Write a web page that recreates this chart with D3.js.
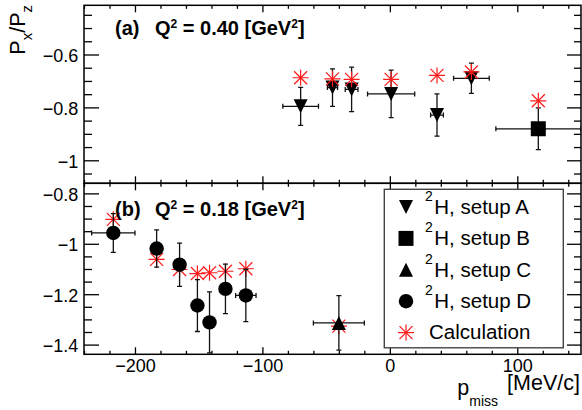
<!DOCTYPE html>
<html>
<head>
<meta charset="utf-8">
<script src="https://cdn.jsdelivr.net/npm/d3@7"></script>
<style>
    body { margin: 0; background: #fff; }
    svg { display: block; font-family: 'Liberation Sans', Arial, Helvetica, sans-serif; }
</style>
</head>
<body>
<svg id="chart" width="582" height="410"></svg>
<script>
var xMajorTicks = [-200, -100, 0, 100];
var topYTicks = [-0.6, -0.8, -1];
var bottomYTicks = [-0.8, -1, -1.2, -1.4];
var panelNames = ['(a)', '(b)'];
var panelQ2 = ['0.40', '0.18'];

// setup A (top panel)
var setupAX = [-70, -45, -30, 1, 37, 64];
var setupAY = [-0.796, -0.725, -0.732, -0.749, -0.829, -0.69];
var setupAXErr = [14, 4, 5, 18.5, 5, 14];
var setupAYErr = [0.072, 0.071, 0.084, 0.09, 0.08, 0.057];
var calcAY = [-0.688, -0.692, -0.694, -0.694, -0.679, -0.666];

// setup B (top panel)
var setupBX = [116.5];
var setupBY = [-0.881];
var setupBXErr = [33.3];
var setupBYErr = [0.079];
var calcBY = [-0.775];

// setup C (bottom panel)
var setupCX = [-40];
var setupCY = [-1.314];
var setupCXErr = [20];
var setupCYErr = [0.108];
var calcCY = [-1.327];

// setup D (bottom panel)
var setupDX = [-217, -183, -165, -151, -141.5, -129, -113];
var setupDY = [-0.957, -1.019, -1.083, -1.245, -1.312, -1.179, -1.205];
var setupDXErr = [17, 3, 0, 0, 0, 0, 8];
var setupDYErr = [0.077, 0.074, 0.086, 0.103, 0.121, 0.098, 0.104];
var calcDY = [-0.903, -1.062, -1.102, -1.118, -1.115, -1.109, -1.099];

var legendLabels = ['H, setup A', 'H, setup B', 'H, setup C', 'H, setup D', 'Calculation'];

(function () {
    'use strict';

    var svg = d3.select('#chart');
    var left = 84, right = 581;
    var x = d3.scaleLinear().domain([-240, 150]).range([left, right]);
    var fmt = d3.format('~g');

    var panels = [
        {top: 5.3, bottom: 183.3, domain: [-1.087, -0.414], ticks: topYTicks, labels: false, titleY: 35, calcOnTop: true},
        {top: 183.3, bottom: 354.3, domain: [-1.4385, -0.76], ticks: bottomYTicks, labels: true, titleY: 216, calcOnTop: false}
    ];

    var series = [
        {panel: 0, shape: 'triangleDown', x: setupAX, y: setupAY, ex: setupAXErr, ey: setupAYErr, calc: calcAY},
        {panel: 0, shape: 'square', x: setupBX, y: setupBY, ex: setupBXErr, ey: setupBYErr, calc: calcBY},
        {panel: 1, shape: 'triangleUp', x: setupCX, y: setupCY, ex: setupCXErr, ey: setupCYErr, calc: calcCY},
        {panel: 1, shape: 'circle', x: setupDX, y: setupDY, ex: setupDXErr, ey: setupDYErr, calc: calcDY}
    ];

    function drawMarker(g, shape, cx, cy) {
        if (shape == 'circle') {
            g.append('circle').attr('cx', cx).attr('cy', cy).attr('r', 7.2).attr('fill', '#000');
            return;
        }
        if (shape == 'star') {
            var s = g.append('g').attr('transform', 'translate(' + cx + ',' + cy + ')')
                .attr('stroke', '#ff1a1a').attr('stroke-width', 1.2);
            [[-8, 0, 8, 0], [0, -8, 0, 8], [-6.5, -6.5, 6.5, 6.5], [-6.5, 6.5, 6.5, -6.5]].forEach(function (l) {
                s.append('line').attr('x1', l[0]).attr('y1', l[1]).attr('x2', l[2]).attr('y2', l[3]);
            });
            return;
        }
        var path;
        switch (shape) {
            case 'triangleDown':
                path = 'M-7,-7L7,-7L0,7Z';
                break;
            case 'triangleUp':
                path = 'M-7,7L7,7L0,-7Z';
                break;
            case 'square':
                path = 'M-7.5,-7.5h15v15h-15Z';
        }
        g.append('path').attr('transform', 'translate(' + cx + ',' + cy + ')')
            .attr('d', path).attr('fill', '#000');
    }

    function ticksBetween(lo, hi, step) {
        return d3.range(Math.ceil(lo / step - 1e-9), Math.floor(hi / step + 1e-9) + 1).map(function (k) {
            return +(k * step).toFixed(4);
        });
    }

    function addAxis(g, axis, values, size, format, padding) {
        g.call(axis.tickValues(values).tickSizeInner(size).tickSizeOuter(0)
            .tickPadding(padding || 0)
            .tickFormat(format || function () { return ''; }));
        g.select('.domain').remove();
        g.selectAll('.tick line').attr('stroke', '#000').attr('stroke-width', 1.3);
        g.attr('font-size', null).attr('font-family', null);
        g.selectAll('.tick text').style('font-size', '18px').attr('fill', '#000');
    }

    var xMinor = ticksBetween(-240, 150, 20).filter(function (v) { return xMajorTicks.indexOf(v) < 0; });

    panels.forEach(function (p, pi) {
        var y = d3.scaleLinear().domain(p.domain).range([p.bottom, p.top]);
        var yMinor = ticksBetween(p.domain[0], p.domain[1], 0.05).filter(function (v) {
            return p.ticks.indexOf(v) < 0;
        });
        var g = svg.append('g').attr('class', 'panel');

        // axes ticks on all four sides
        addAxis(g.append('g').attr('transform', 'translate(0,' + p.bottom + ')'), d3.axisBottom(x), xMinor, -3.5);
        addAxis(g.append('g').attr('transform', 'translate(0,' + p.bottom + ')'), d3.axisBottom(x), xMajorTicks, -7,
            p.labels ? fmt : null, 5);
        addAxis(g.append('g').attr('transform', 'translate(0,' + p.top + ')'), d3.axisTop(x), xMinor, -3.5);
        addAxis(g.append('g').attr('transform', 'translate(0,' + p.top + ')'), d3.axisTop(x), xMajorTicks, -7);
        addAxis(g.append('g').attr('transform', 'translate(' + left + ',0)'), d3.axisLeft(y), yMinor, -8);
        var yAxis = g.append('g').attr('transform', 'translate(' + left + ',0)');
        addAxis(yAxis, d3.axisLeft(y), p.ticks, -15, fmt, 5.7);
        yAxis.selectAll('.tick text').attr('dy', '0.38em');
        addAxis(g.append('g').attr('transform', 'translate(' + right + ',0)'), d3.axisRight(y), yMinor, -7);
        addAxis(g.append('g').attr('transform', 'translate(' + right + ',0)'), d3.axisRight(y), p.ticks, -14);

        var clipId = 'clip' + pi;
        g.append('clipPath').attr('id', clipId).append('rect')
            .attr('x', left).attr('y', p.top).attr('width', right - left).attr('height', p.bottom - p.top);
        var plot = g.append('g').attr('class', 'plot').attr('clip-path', 'url(#' + clipId + ')');

        var dataLayer = plot.append('g');
        var calcLayer = p.calcOnTop ? plot.append('g') : plot.insert('g', ':first-child');

        series.filter(function (s) { return s.panel == pi; }).forEach(function (s) {
            s.x.forEach(function (xv, i) {
                var cx = x(xv), cy = y(s.y[i]);
                var eb = dataLayer.append('g').attr('stroke', '#111').attr('stroke-width', 1.3);
                var y1 = y(s.y[i] + s.ey[i]), y2 = y(s.y[i] - s.ey[i]);
                eb.append('line').attr('x1', cx).attr('x2', cx).attr('y1', y1).attr('y2', y2);
                eb.append('line').attr('x1', cx - 2.5).attr('x2', cx + 2.5).attr('y1', y1).attr('y2', y1);
                eb.append('line').attr('x1', cx - 2.5).attr('x2', cx + 2.5).attr('y1', y2).attr('y2', y2);
                if (s.ex[i] > 0) {
                    var x1 = x(xv - s.ex[i]), x2 = x(xv + s.ex[i]);
                    eb.append('line').attr('x1', x1).attr('x2', x2).attr('y1', cy).attr('y2', cy);
                    eb.append('line').attr('x1', x1).attr('x2', x1).attr('y1', cy - 2.5).attr('y2', cy + 2.5);
                    eb.append('line').attr('x1', x2).attr('x2', x2).attr('y1', cy - 2.5).attr('y2', cy + 2.5);
                }
                drawMarker(dataLayer, s.shape, cx, cy);
                drawMarker(calcLayer, 'star', cx, y(s.calc[i]));
            });
        });

        // frame
        g.append('rect')
            .attr('x', left).attr('y', p.top).attr('width', right - left).attr('height', p.bottom - p.top)
            .attr('fill', 'none').attr('stroke', '#000').attr('stroke-width', 1.5);

        // panel title
        var title = g.append('text').attr('x', 115).attr('y', p.titleY)
            .style('font-weight', 'bold').style('font-size', '20px');
        title.append('tspan').text(panelNames[pi]);
        title.append('tspan').attr('x', 155).text('Q');
        title.append('tspan').attr('dy', -7).style('font-size', '12px').text('2');
        title.append('tspan').attr('dy', 7).text(' = ' + panelQ2[pi] + ' [GeV');
        title.append('tspan').attr('dy', -7).style('font-size', '12px').text('2');
        title.append('tspan').attr('dy', 7).text(']');
    });

    // legend
    var legend = svg.append('g').attr('class', 'legend');
    legend.append('rect')
        .attr('x', 384.3).attr('y', 189.3).attr('width', 179).attr('height', 158.5)
        .attr('fill', '#fff').attr('stroke', '#444').attr('stroke-width', 1.4);
    var shapes = ['triangleDown', 'square', 'triangleUp', 'circle', 'star'];
    legendLabels.forEach(function (label, i) {
        var cy = 207 + i * 31.4;
        drawMarker(legend, shapes[i], 406, cy);
        var t = legend.append('text').attr('x', 425).attr('y', cy + 6.8).style('font-size', '20.5px');
        if (i < 4) {
            t.append('tspan').attr('dy', -13).style('font-size', '14px').text('2');
            t.append('tspan').attr('dy', 13).attr('dx', 1.5).text(label);
        } else {
            t.attr('x', 429).text(label);
        }
    });

    // axis titles
    var yt = svg.append('text').attr('transform', 'translate(25,5) rotate(-90)')
        .attr('text-anchor', 'end').style('font-size', '21.5px');
    yt.append('tspan').text('P');
    yt.append('tspan').attr('dy', 7).style('font-size', '15px').text('x');
    yt.append('tspan').attr('dy', -7).text('/P');
    yt.append('tspan').attr('dy', 7).style('font-size', '15px').text('z');

    var xt = svg.append('text').attr('x', 580).attr('y', 390)
        .attr('text-anchor', 'end').style('font-size', '21.5px');
    xt.append('tspan').attr('dy', 5).text('p');
    xt.append('tspan').attr('dy', 11).style('font-size', '14px').text('miss');
    xt.append('tspan').attr('dy', -16).attr('dx', 9).text('[MeV/c]');
})();
</script>
</body>
</html>
